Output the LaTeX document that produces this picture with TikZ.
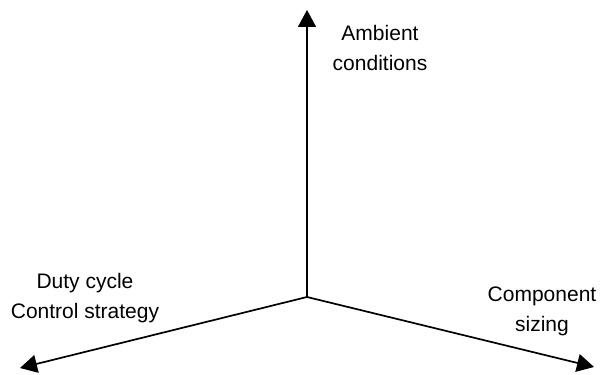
\documentclass[tikz,border=0pt]{standalone}
\usepackage{fontspec}
\setmainfont{Liberation Sans}
\usepackage{tikz}
\usetikzlibrary{arrows.meta}
\tikzstyle{axislabel}=[align=center, font=\fontsize{21}{30}\selectfont, inner sep=0pt]
\tikzstyle{axis}=[draw, line width=1.7pt, -{Triangle[length=17pt, width=18pt]}]

\begin{document}
\begin{tikzpicture}[x=1pt, y=1pt]
      %
      \path[use as bounding box] (0,0) rectangle (601,374);
      %
      % Origin and axis ends
      %
      \coordinate (origin) at (307,77);
      \coordinate (ambient) at (307,364);
      \coordinate (duty) at (20,6);
      \coordinate (sizing) at (594,7);
      %
      % Origin --> Ambient conditions
      %
      \path [axis] (origin) -- (ambient);
      \node[axislabel] (ambientlabel) at (380,326) {Ambient \\ conditions};
      %
      % Origin --> Duty cycle
      %
      \path [axis] (origin) -- (duty);
      \node[axislabel] (dutylabel) at (85,76) {Duty cycle \\ Control strategy};
      %
      % Origin --> Component sizing
      %
      \path [axis] (origin) -- (sizing);
      \node[axislabel] (sizinglabel) at (542,63) {Component \\ sizing};
      %
\end{tikzpicture}
\end{document}
